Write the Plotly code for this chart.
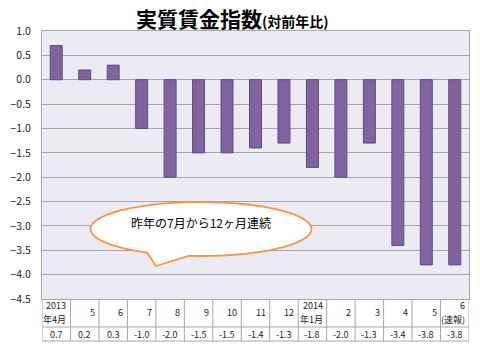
import numpy as np
import plotly.graph_objects as go

months = ["2013\n年4月", "5", "6", "7", "8", "9", "10", "11", "12",
          "2014\n年1月", "2", "3", "4", "5", "6\n(速報)"]
values = [0.7, 0.2, 0.3, -1.0, -2.0, -1.5, -1.5, -1.4, -1.3, -1.8, -2.0, -1.3, -3.4, -3.8, -3.8]
value_labels = ["0.7", "0.2", "0.3", "-1.0", "-2.0", "-1.5", "-1.5", "-1.4", "-1.3",
                "-1.8", "-2.0", "-1.3", "-3.4", "-3.8", "-3.8"]

W, H = 480, 355
ML, MR, MT, MB = 39, 10, 31, 56
PW, PH = W - ML - MR, H - MT - MB
FONT = "Noto Sans CJK JP"

def px(x):
    return (x - ML) / PW

def py(y):
    return (H - MB - y) / PH

x = list(range(len(values)))
fig = go.Figure()
fig.add_trace(go.Bar(
    x=x, y=values, width=0.42,
    marker=dict(color="#8064A2", line=dict(color="#5E4A7C", width=1)),
    hoverinfo="skip",
))

shapes = []
# table lines
row_div = py(327)
tbl_bot = py(341)
for k in range(len(values) + 1):
    shapes.append(dict(type="line", xref="x", yref="paper", x0=k - 0.5, x1=k - 0.5,
                       y0=0, y1=tbl_bot, line=dict(color="#A6A6A6", width=1)))
for yy in (row_div, tbl_bot):
    shapes.append(dict(type="line", xref="x", yref="paper", x0=-0.5, x1=len(values) - 0.5,
                       y0=yy, y1=yy, line=dict(color="#A6A6A6", width=1)))

# callout bubble
cx, cy, rx, ry = 199.5, 229.0, 111.5, 27.0
t_start = np.arccos((187 - cx) / rx)
t_end = np.arccos((145 - cx) / rx) - 2 * np.pi
ts = np.linspace(t_start, t_end, 120)
pts = [(cx + rx * np.cos(t), cy + ry * np.sin(t)) for t in ts]
pts.append((154, 266))
path = "M " + " L ".join(f"{px(a):.5f},{py(b):.5f}" for a, b in pts) + " Z"
shapes.append(dict(type="path", xref="paper", yref="paper", path=path,
                   fillcolor="white", line=dict(color="#F79646", width=1.8), layer="above"))

annotations = []
cell_font = dict(size=9, color="#222", family=FONT)
for i, (m, v) in enumerate(zip(months, value_labels)):
    parts = m.split("\n")
    if len(parts) == 1:
        ys = [312.5]
    else:
        ys = [305, 319.5]
    for part, yy in zip(parts, ys):
        annotations.append(dict(x=i + 0.5, y=py(yy), xref="x", yref="paper", text=part,
                                showarrow=False, xanchor="right", yanchor="middle",
                                xshift=-2, font=cell_font))
    annotations.append(dict(x=i, y=py(334), xref="x", yref="paper", text=v,
                            showarrow=False, xanchor="center", yanchor="middle",
                            font=cell_font))

annotations.append(dict(x=px(231), y=py(18), xref="paper", yref="paper",
                        text="<b>実質賃金指数</b><span style='font-size:14px'><b>(対前年比)</b></span>",
                        showarrow=False, xanchor="center", yanchor="middle",
                        font=dict(size=21, color="#000", family=FONT)))
annotations.append(dict(x=px(199), y=py(222), xref="paper", yref="paper",
                        text="昨年の7月から12ヶ月連続", showarrow=False,
                        xanchor="center", yanchor="middle",
                        font=dict(size=12, color="#000", family=FONT)))

fig.update_layout(
    width=W, height=H,
    margin=dict(l=ML, r=MR, t=MT, b=MB),
    paper_bgcolor="white", plot_bgcolor="#ECEAF2",
    showlegend=False,
    shapes=shapes, annotations=annotations,
    xaxis=dict(range=[-0.5, len(values) - 0.5], showticklabels=False, showgrid=False,
               zeroline=False, showline=True, linecolor="#A6A6A6", mirror=True, ticks=""),
    yaxis=dict(range=[-4.5, 1.0], dtick=0.5, tickformat=".1f", showgrid=True,
               gridcolor="#A6A6A6", gridwidth=1, zeroline=False, showline=True,
               linecolor="#A6A6A6", mirror=True, ticks="", ticklabelstandoff=8,
               tickfont=dict(size=10.5, color="#222", family=FONT)),
    font=dict(family=FONT),
)

fig.write_html("out.html", config={"displayModeBar": False},
               post_script="document.body.style.margin='0';")
